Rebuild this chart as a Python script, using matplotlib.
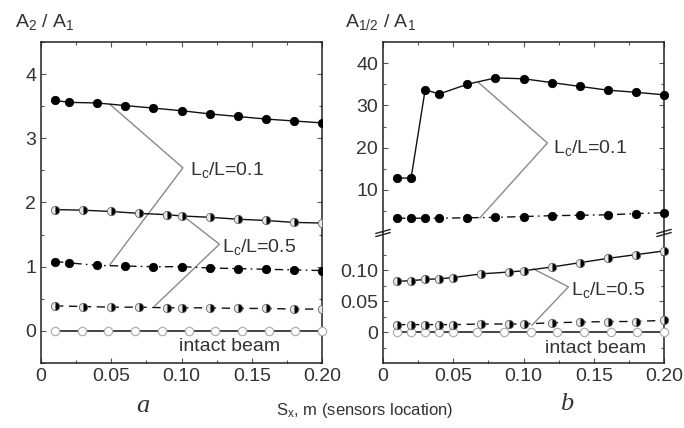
import matplotlib
matplotlib.use("Agg")
import matplotlib.pyplot as plt
from matplotlib.ticker import MultipleLocator, FixedLocator

plt.rcParams['font.family'] = ['Liberation Sans', 'DejaVu Sans']
plt.rcParams['mathtext.default'] = 'regular'

# ---------------- data : panel a ----------------
xa_top = [0.01, 0.02, 0.04, 0.06, 0.08, 0.10, 0.12, 0.14, 0.16, 0.18, 0.20]
ya_c01_solid = [3.59, 3.56, 3.55, 3.51, 3.47, 3.43, 3.38, 3.34, 3.30, 3.27, 3.24]
ya_c01_dash = [1.08, 1.06, 1.02, 1.01, 1.00, 1.00, 0.98, 0.97, 0.96, 0.95, 0.94]
xa_half = [0.01, 0.03, 0.05, 0.07, 0.09, 0.10, 0.12, 0.14, 0.16, 0.18, 0.20]
ya_c05_solid = [1.89, 1.88, 1.86, 1.83, 1.81, 1.79, 1.77, 1.74, 1.72, 1.69, 1.68]
ya_c05_dash = [0.39, 0.38, 0.37, 0.37, 0.36, 0.36, 0.36, 0.35, 0.35, 0.34, 0.34]
xa_intact = [0.01, 0.029, 0.048, 0.067, 0.086, 0.105, 0.124, 0.143, 0.162, 0.181, 0.20]
ya_intact = [0.0] * len(xa_intact)

# ---------------- data : panel b ----------------
xb_c01 = [0.01, 0.02, 0.03, 0.04, 0.06, 0.08, 0.10, 0.12, 0.14, 0.16, 0.18, 0.20]
yb_c01_solid = [12.8, 12.8, 33.7, 32.7, 35.0, 36.5, 36.3, 35.4, 34.5, 33.6, 33.1, 32.5]
yb_c01_dash = [3.3, 3.3, 3.3, 3.3, 3.4, 3.5, 3.7, 3.9, 4.0, 4.1, 4.4, 4.6]
xb_c05 = [0.01, 0.02, 0.03, 0.04, 0.05, 0.07, 0.09, 0.10, 0.12, 0.14, 0.16, 0.18, 0.20]
yb_c05_solid = [0.082, 0.083, 0.085, 0.086, 0.088, 0.094, 0.097, 0.099, 0.105, 0.112, 0.119, 0.125, 0.131]
yb_c05_dash = [0.012, 0.012, 0.012, 0.012, 0.012, 0.013, 0.013, 0.013, 0.015, 0.016, 0.017, 0.017, 0.019]
xb_intact = [0.01, 0.02, 0.03, 0.04, 0.05, 0.067, 0.086, 0.105, 0.124, 0.143, 0.162, 0.181, 0.20]
yb_intact = [0.0] * len(xb_intact)

xticks = [0, 0.05, 0.10, 0.15, 0.20]
xticklabels = ['0', '0.05', '0.10', '0.15', '0.20']

# ---------------- styles ----------------
LC = '#111111'
GRAY = '#8a8a8a'
TXT = '#333333'
FS_TICK = 14
FS_ANN = 14
dashdot = (0, (6, 3, 1.2, 3))
dashed = (0, (6, 4))

filled = dict(marker='o', markersize=6, markerfacecolor='black', markeredgecolor='black', markeredgewidth=0.6)
half = dict(marker='o', markersize=6, fillstyle='right', markerfacecolor='black',
            markerfacecoloralt='#e8e8e8', markeredgecolor='#666666', markeredgewidth=0.6)
openm = dict(marker='o', markersize=6, markerfacecolor='white', markeredgecolor='#b0b0b0', markeredgewidth=0.9)

fig = plt.figure(figsize=(6.84, 4.28), dpi=100)

W = 281 / 684


def style_axis(ax, top=True, bottom=True):
    ax.tick_params(which='both', direction='in', top=top, bottom=bottom, right=True, left=True,
                   colors='#555555', labelcolor=TXT, labelsize=FS_TICK, width=0.8)
    ax.tick_params(which='major', length=3.5)
    ax.tick_params(which='minor', length=2)
    for s in ax.spines.values():
        s.set_linewidth(1.1)
        s.set_color('#222222')
    ax.set_xlim(0, 0.20)
    ax.xaxis.set_major_locator(FixedLocator(xticks))
    ax.xaxis.set_minor_locator(MultipleLocator(0.025))


# ---------------- panel a ----------------
axa = fig.add_axes([41 / 684, 1 - 363 / 428, W, 321 / 428])
style_axis(axa)
axa.set_ylim(-0.5, 4.5)
axa.yaxis.set_major_locator(MultipleLocator(1))
axa.yaxis.set_minor_locator(MultipleLocator(0.5))
axa.set_xticklabels(xticklabels)

axa.plot(xa_intact, ya_intact, color=LC, lw=1.1, **openm, clip_on=False, zorder=3)
axa.plot(xa_top, ya_c01_solid, color=LC, lw=1.0, **filled, clip_on=True, zorder=3)
axa.plot(xa_top, ya_c01_dash, color=LC, lw=1.0, ls=dashdot, **filled, zorder=3)
axa.plot(xa_half, ya_c05_solid, color=LC, lw=1.0, **half, zorder=3)
axa.plot(xa_half, ya_c05_dash, color=LC, lw=1.0, ls=dashed, **half, zorder=3)

# leader lines
axa.plot([0.049, 0.101, 0.049], [3.53, 2.54, 1.03], color=GRAY, lw=1.0, zorder=2)
axa.text(0.106, 2.50, 'L$_c$/L=0.1', fontsize=FS_ANN, color=TXT, va='center', ha='left')
axa.plot([0.100, 0.127, 0.081], [1.81, 1.35, 0.39], color=GRAY, lw=1.0, zorder=2)
axa.text(0.129, 1.31, 'L$_c$/L=0.5', fontsize=FS_ANN, color=TXT, va='center', ha='left')
axa.text(0.134, -0.25, 'intact beam', fontsize=FS_ANN, color=TXT, va='center', ha='center')

# ---------------- panel b (broken axis) ----------------
left_b = 383 / 684
axu = fig.add_axes([left_b, 1 - 233 / 428, W, 191 / 428])
axl = fig.add_axes([left_b, 1 - 363 / 428, W, 130 / 428])
style_axis(axu, top=True, bottom=False)
style_axis(axl, top=False, bottom=True)
axu.spines['bottom'].set_visible(False)
axl.spines['top'].set_visible(False)
axu.set_ylim(-0.2, 45)
axu.yaxis.set_major_locator(FixedLocator([10, 20, 30, 40]))
axu.yaxis.set_minor_locator(FixedLocator([5, 15, 25, 35]))
axu.tick_params(labelbottom=False)
axl.set_ylim(-0.05, 0.16)
axl.yaxis.set_major_locator(FixedLocator([0, 0.05, 0.10]))
axl.yaxis.set_minor_locator(FixedLocator([-0.025, 0.025, 0.075, 0.125]))
axl.set_yticklabels(['0', '0.05', '0.10'])
axl.set_xticklabels(xticklabels)

axu.plot(xb_c01, yb_c01_solid, color=LC, lw=1.0, **filled, zorder=3, clip_on=False)
axu.plot(xb_c01, yb_c01_dash, color=LC, lw=1.0, ls=dashdot, **filled, zorder=3, clip_on=False)
axl.plot(xb_intact, yb_intact, color=LC, lw=1.1, **openm, zorder=3, clip_on=False)
axl.plot(xb_c05, yb_c05_solid, color=LC, lw=1.0, **half, zorder=3, clip_on=False)
axl.plot(xb_c05, yb_c05_dash, color=LC, lw=1.0, ls=dashed, **half, zorder=3, clip_on=False)

axu.plot([0.068, 0.117, 0.069], [35.4, 21.1, 3.4], color=GRAY, lw=1.0, zorder=2)
axu.text(0.121, 20.0, 'L$_c$/L=0.1', fontsize=FS_ANN, color=TXT, va='center', ha='left')
axl.plot([0.107, 0.132, 0.106], [0.102, 0.073, 0.011], color=GRAY, lw=1.0, zorder=2)
axl.text(0.134, 0.068, 'L$_c$/L=0.5', fontsize=FS_ANN, color=TXT, va='center', ha='left')
axl.text(0.151, -0.027, 'intact beam', fontsize=FS_ANN, color=TXT, va='center', ha='center')

# break marks
for xe in (0.0, 1.0):
    for dy in (-0.012, 0.012):
        axl.plot([xe - 0.025, xe + 0.025], [1.0 + dy - 0.015, 1.0 + dy + 0.015],
                 transform=axl.transAxes, color='#222222', lw=1.0, clip_on=False, zorder=5)

# ---------------- figure texts ----------------
fig.text(15 / 684, 1 - 22 / 428, 'A$_2$ / A$_1$', fontsize=FS_ANN, color=TXT, va='center', ha='left')
fig.text(345 / 684, 1 - 22 / 428, 'A$_{1/2}$ / A$_1$', fontsize=FS_ANN, color=TXT, va='center', ha='left')
fig.text(365 / 684, 1 - 410 / 428, 'S$_x$, m (sensors location)', fontsize=12, color=TXT, va='center', ha='center')
fig.text(143 / 684, 1 - 406 / 428, 'a', fontsize=19, family='Liberation Serif', style='italic', color=TXT,
         va='center', ha='center')
fig.text(567 / 684, 1 - 404 / 428, 'b', fontsize=19, family='Liberation Serif', style='italic', color=TXT,
         va='center', ha='center')

fig.savefig('out.png', dpi=100)
